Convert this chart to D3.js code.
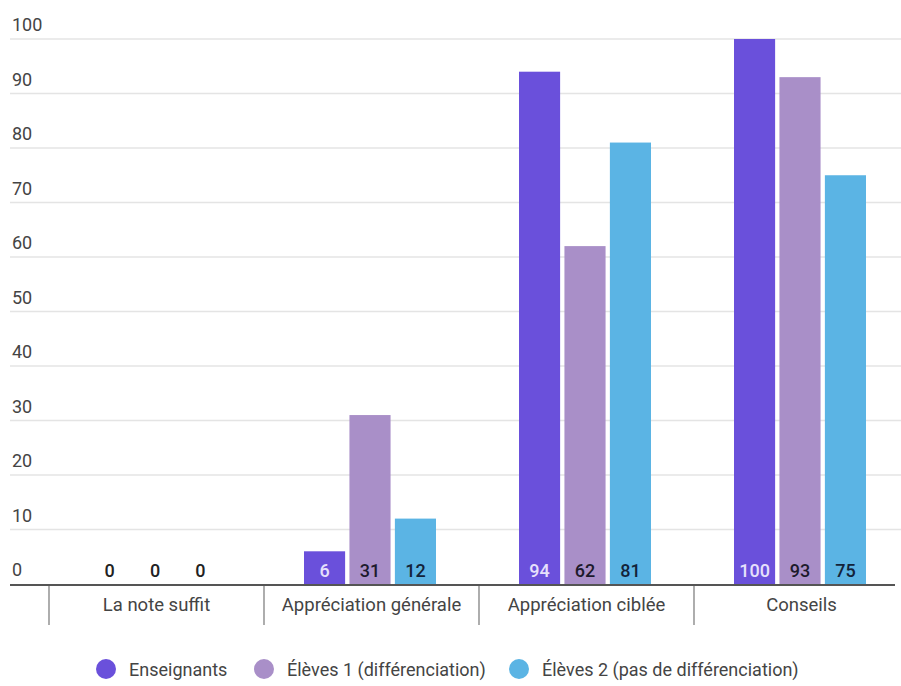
<!DOCTYPE html>
<html>
<head>
<meta charset="utf-8">
<script src="https://cdn.jsdelivr.net/npm/d3@7"></script>
<style>
  body { margin: 0; background: #fff; }
  svg { display: block; font-family: Roboto, "Noto Sans", sans-serif; }
</style>
</head>
<body>
<script>
const categories = ['La note suffit', 'Appréciation générale', 'Appréciation ciblée', 'Conseils'];
const seriesNames = ['Enseignants', 'Élèves 1 (différenciation)', 'Élèves 2 (pas de différenciation)'];
const enseignants = [0, 6, 94, 100];
const eleves1 = [0, 31, 62, 93];
const eleves2 = [0, 12, 81, 75];
const yTicks = [0, 10, 20, 30, 40, 50, 60, 70, 80, 90, 100];

const colors = ['#6a50db', '#a98fc8', '#5bb4e4'];
const labelColors = ['#e6e0fb', '#1d1a2c', '#13233a'];

const width = 901, height = 686;
const svg = d3.select('body').append('svg')
  .attr('width', width)
  .attr('height', height);

const x0 = d3.scaleBand().domain(categories).range([49, 909]);
const x1 = d3.scaleBand().domain(seriesNames).range([40, 172]).paddingInner(0.095);
const y = d3.scaleLinear().domain([0, 100]).range([584, 39]);

const values = [enseignants, eleves1, eleves2];
const rows = categories.map((c, i) => ({
  cat: c,
  items: seriesNames.map((s, j) => ({ s, j, v: values[j][i] }))
}));

// grid
svg.append('g')
  .selectAll('line')
  .data(yTicks.filter(d => d > 0))
  .join('line')
  .attr('x1', 10).attr('x2', width)
  .attr('y1', d => y(d)).attr('y2', d => y(d))
  .attr('stroke', '#e4e4e4')
  .attr('stroke-width', 1.5);

svg.append('g')
  .selectAll('text')
  .data(yTicks)
  .join('text')
  .attr('x', 12)
  .attr('y', d => y(d) - 8)
  .attr('font-size', 18)
  .attr('fill', '#444')
  .text(d => d);

// bars
const groups = svg.append('g')
  .selectAll('g')
  .data(rows)
  .join('g')
  .attr('transform', d => `translate(${x0(d.cat)},0)`);

groups.selectAll('rect')
  .data(d => d.items)
  .join('rect')
  .attr('x', d => x1(d.s))
  .attr('width', x1.bandwidth())
  .attr('y', d => y(d.v))
  .attr('height', d => y(0) - y(d.v))
  .attr('fill', d => colors[d.j]);

groups.selectAll('text')
  .data(d => d.items)
  .join('text')
  .attr('x', d => x1(d.s) + x1.bandwidth() / 2)
  .attr('y', y(0) - 7)
  .attr('text-anchor', 'middle')
  .attr('font-size', 18)
  .attr('font-weight', 500)
  .attr('fill', d => d.v === 0 ? '#222' : labelColors[d.j])
  .text(d => d.v);

// axis
svg.append('line')
  .attr('x1', 10).attr('x2', 895)
  .attr('y1', y(0) + 1).attr('y2', y(0) + 1)
  .attr('stroke', '#555')
  .attr('stroke-width', 2);

const seps = categories.map(c => x0(c));
svg.append('g')
  .selectAll('line')
  .data(seps)
  .join('line')
  .attr('x1', d => d).attr('x2', d => d)
  .attr('y1', y(0) + 2).attr('y2', 625)
  .attr('stroke', '#777')
  .attr('stroke-width', 1.2);

svg.append('g')
  .selectAll('text')
  .data(categories)
  .join('text')
  .attr('x', d => x0(d) + x0.bandwidth() / 2)
  .attr('y', 611)
  .attr('text-anchor', 'middle')
  .attr('font-size', 18.5)
  .attr('fill', '#444')
  .text(d => d);

// legend
const legendX = [106, 264, 519];
const legend = svg.append('g')
  .selectAll('g')
  .data(seriesNames)
  .join('g')
  .attr('transform', (d, i) => `translate(${legendX[i]},669)`);

legend.append('circle')
  .attr('r', 10)
  .attr('fill', (d, i) => colors[i]);

legend.append('text')
  .attr('x', 23)
  .attr('y', 6.5)
  .attr('font-size', 18)
  .attr('fill', '#444')
  .text(d => d);
</script>
</body>
</html>
